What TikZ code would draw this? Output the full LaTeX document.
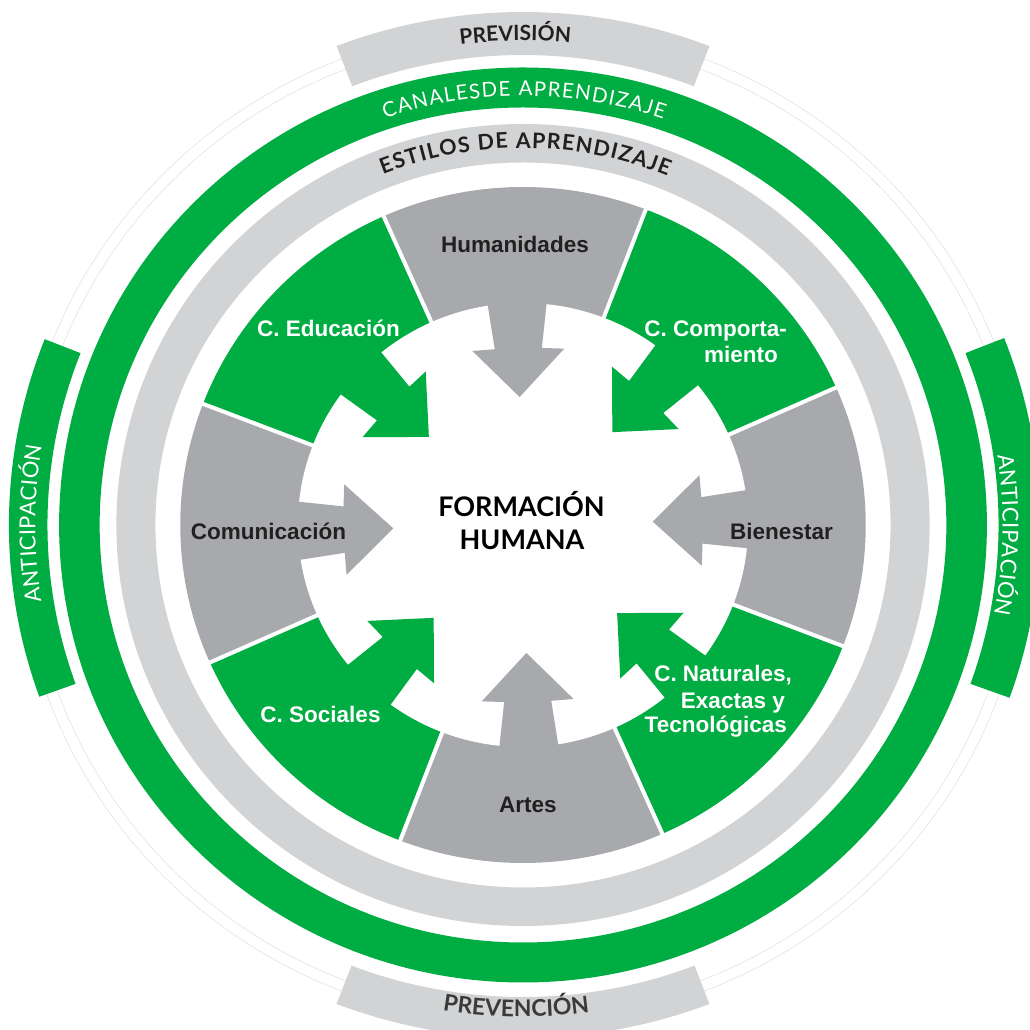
\documentclass[tikz,border=0pt]{standalone}
\usepackage{fontspec}
\usetikzlibrary{decorations.text}
\newfontfamily\opt{Lato}
\newfontfamily\arl{Liberation Sans}
\definecolor{grn}{HTML}{00AD43}
\definecolor{sgray}{HTML}{A7A9AC}
\definecolor{lgray}{HTML}{D1D3D4}
\definecolor{dtext}{HTML}{231F20}
\definecolor{ptext}{HTML}{3A3A3A}
\begin{document}
\begin{tikzpicture}[x=1pt,y=1pt,
  lblw/.style={font=\arl\bfseries\fontsize{22.5}{26}\selectfont, text=white, inner sep=0pt},
  lbld/.style={font=\arl\bfseries\fontsize{22.5}{26}\selectfont, text=dtext, inner sep=0pt},
  ctr/.style={font=\opt\bfseries\fontsize{27}{30}\selectfont, text=black, inner sep=0pt},
  faint/.style={draw=gray!30, line width=0.4pt}]
\useasboundingbox (0,0) rectangle (1029,1030);
\fill[white] (0,0) rectangle (1029,1030);
\begin{scope}[shift={(523,505)}, xscale=1.014]
  % faint outer circles
  \draw[faint] (0,0) circle[radius=488];
  \draw[faint] (0,0) circle[radius=499];
  % outer bands
  \fill[lgray] (69:470) arc[start angle=69,end angle=111,radius=470] -- (111:513) arc[start angle=111,end angle=69,radius=513] -- cycle;
  \fill[lgray] (249:472) arc[start angle=249,end angle=291,radius=472] -- (291:513) arc[start angle=291,end angle=249,radius=513] -- cycle;
  \fill[grn] (158.5:469) arc[start angle=158.5,end angle=199.8,radius=469] -- (199.8:507) arc[start angle=199.8,end angle=158.5,radius=507] -- cycle;
  \fill[grn] (-19.8:469) arc[start angle=-19.8,end angle=21.5,radius=469] -- (21.5:510) arc[start angle=21.5,end angle=-19.8,radius=510] -- cycle;
  % rings
  \fill[grn, even odd rule] (0,0) circle[radius=457.5] (0,0) circle[radius=417.5];
  \fill[lgray, even odd rule] (0,0) circle[radius=401] (0,0) circle[radius=362.5];
  % sectors
  \foreach \ax in {1.5,91.5,181.5,271.5}
    \fill[sgray] (0,0) -- ({\ax-22.5}:338) arc[start angle={\ax-22.5}, end angle={\ax+22.5}, radius=338] -- cycle;
  \foreach \ax in {46.5,136.5,226.5,316.5}
    \fill[grn] (0,0) -- ({\ax-22.5}:338) arc[start angle={\ax-22.5}, end angle={\ax+22.5}, radius=338] -- cycle;
  % white centre
  \fill[white] (0,0) circle[radius=222];
  % arrows
  \foreach \ax/\c in {1.5/sgray,91.5/sgray,181.5/sgray,271.5/sgray,46.5/grn,136.5/grn,226.5/grn,316.5/grn}
    \fill[\c] ({\ax-7.5}:235) -- ({\ax-7.5}:178) -- ({\ax-14.5}:181) -- (\ax:128)
      -- ({\ax+14.5}:181) -- ({\ax+7.5}:178) -- ({\ax+7.5}:235) -- cycle;
  % separators
  \foreach \ax in {24,69,114,159,204,249,294,339}
    \draw[white, line width=4pt] (\ax:221) -- (\ax:342);
  % curved texts
  \path[decorate, decoration={text along path, text align=center,
     text={|\opt\bfseries\fontsize{21}{21}\selectfont\color{dtext}|PREVISIÓN}}]
     (120:484.3) arc[start angle=120, end angle=61.8, radius=484.3];
  \path[decorate, decoration={text along path, text align={fit to path},
     text={|\opt\fontsize{20.5}{21}\selectfont\color{white}|CANALESDE APRENDIZAJE}}]
     (108.5:429) arc[start angle=108.5, end angle=71.2, radius=429];
  \path[decorate, decoration={text along path, text align={fit to path},
     text={|\opt\bfseries\fontsize{21.5}{22}\selectfont\color{dtext}|ESTILOS DE APRENDIZAJE}}]
     (111.5:377) arc[start angle=111.5, end angle=67.8, radius=377];
  \path[decorate, decoration={text along path, text align=center,
     text={|\opt\bfseries\fontsize{23}{23}\selectfont\color{ptext}|PREVENCIÓN}}]
     (240:491.7) arc[start angle=240, end angle=298.4, radius=491.7];
  \path[decorate, decoration={text along path, text align={fit to path},
     text={|\opt\fontsize{22}{22}\selectfont\color{white}|ANTICIPACIÓN}}]
     (189.2:481) arc[start angle=189.2, end angle=170.5, radius=481];
  \path[decorate, decoration={text along path, text align={fit to path},
     text={|\opt\fontsize{22}{22}\selectfont\color{white}|ANTICIPACIÓN}}]
     (8.5:473) arc[start angle=8.5, end angle=-10.9, radius=473];
\end{scope}
% sector labels
\node[lbld, anchor=base] (hum) at (515,777.3) {Humanidades};
\node[lblw, anchor=base] (edu) at (328.5,693.3) {C. Educación};
\node[lbld, anchor=base] (com) at (268.5,490.7) {Comunicación};
\node[lbld, anchor=base] (bie) at (781.5,490) {Bienestar};
\node[lblw, anchor=base] (soc) at (320.5,307.3) {C. Sociales};
\node[lbld, anchor=base] (art) at (528,217) {Artes};
\node[lblw, anchor=base east] (cmp1) at (787,693) {C. Comporta-};
\node[lblw, anchor=base east] (cmp2) at (778,667) {miento};
\node[lblw, anchor=base east] (nat1) at (792,348.3) {C. Naturales,};
\node[lblw, anchor=base east] (nat2) at (785,321.7) {Exactas y};
\node[lblw, anchor=base east] (nat3) at (787,297) {Tecnológicas};
% centre title
\node[ctr, anchor=base] (fh1) at (521.5,513.5) {FORMACIÓN};
\node[ctr, anchor=base] (fh2) at (522,480) {HUMANA};
\end{tikzpicture}
\end{document}
